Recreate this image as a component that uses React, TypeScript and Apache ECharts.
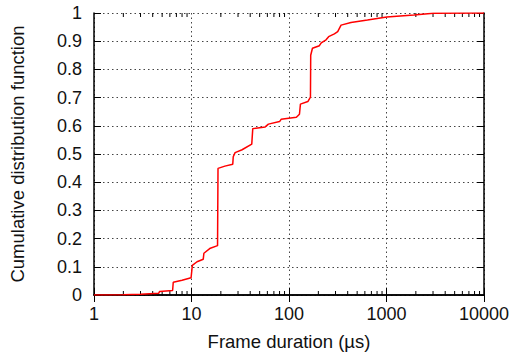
import React, { useEffect, useRef } from "react";
import * as echarts from "echarts";

const durations = [1, 2, 3, 4.6, 4.7, 6.4, 6.5, 8, 9.9, 10.2, 11.4, 13.2, 13.4, 15.6, 18.5, 18.7, 22, 26.5, 26.8, 28, 33, 41.5, 42.5, 57, 61.5, 80, 83, 119, 128, 131, 156, 166, 167, 174, 205, 214, 240, 255, 292, 316, 342, 432, 638, 1006, 1906, 3020, 10000];
const cdf = [0, 0.001, 0.003, 0.006, 0.012, 0.016, 0.045, 0.052, 0.061, 0.105, 0.118, 0.127, 0.148, 0.166, 0.175, 0.449, 0.457, 0.464, 0.49, 0.505, 0.515, 0.535, 0.59, 0.596, 0.606, 0.615, 0.623, 0.63, 0.641, 0.677, 0.686, 0.702, 0.85, 0.875, 0.884, 0.894, 0.905, 0.916, 0.926, 0.934, 0.957, 0.966, 0.975, 0.986, 0.993, 0.999, 1];
const decades = [1, 10, 100, 1000];
const minorMultipliers = [2, 3, 4, 5, 6, 7, 8, 9];
const xTickLabels = ["1", "10", "100", "1000", "10000"];
const xName = "Frame duration (µs)";
const yName = "Cumulative distribution function";

const FONT = "'Liberation Sans', Arial, Helvetica, sans-serif";

export default function App() {
  const ref = useRef<HTMLDivElement>(null);
  useEffect(() => {
    if (!ref.current) return;
    const chart = echarts.init(ref.current, null, { renderer: "svg" });
    const minorTicks: number[][] = [];
    decades.forEach((d) => minorMultipliers.forEach((m) => minorTicks.push([d * m, 0])));
    const axisLine = { show: true, lineStyle: { color: "#000", width: 1.5 } };
    const grid = { type: [1.5, 3], color: "#444", width: 1 };
    const common = { fontFamily: FONT, fontSize: 18, color: "#111" };
    chart.setOption({
      animation: false,
      backgroundColor: "#fff",
      grid: { left: 91, right: 30, top: 13, bottom: 63 },
      xAxis: [
        {
          type: "log",
          logBase: 10,
          min: 1,
          max: 10000,
          position: "bottom",
          axisLine,
          axisTick: { show: true, inside: true, length: 7, lineStyle: { color: "#000", width: 1 } },
          axisLabel: {
            ...common,
            margin: 10,
            formatter: (v: number) => xTickLabels[Math.round(Math.log10(v))] ?? "",
          },
          splitLine: { show: true, lineStyle: grid },
          name: xName,
          nameLocation: "middle",
          nameGap: 37,
          nameTextStyle: { ...common, fontSize: 18.5 },
        },
        {
          type: "log",
          logBase: 10,
          min: 1,
          max: 10000,
          position: "top",
          axisLine,
          axisTick: { show: true, inside: true, length: 7, lineStyle: { color: "#000", width: 1 } },
          axisLabel: { show: false },
          splitLine: { show: false },
        },
      ],
      yAxis: [
        {
          type: "value",
          min: 0,
          max: 1,
          interval: 0.1,
          position: "left",
          axisLine,
          axisTick: { show: true, inside: true, length: 7, lineStyle: { color: "#000", width: 1 } },
          axisLabel: {
            ...common,
            margin: 12,
            formatter: (v: number) => String(Math.round(v * 10) / 10),
          },
          splitLine: { show: true, lineStyle: grid },
          name: yName,
          nameLocation: "middle",
          nameGap: 67,
          nameRotate: 90,
          nameTextStyle: { ...common, fontSize: 18.5 },
        },
        {
          type: "value",
          min: 0,
          max: 1,
          interval: 0.1,
          position: "right",
          axisLine,
          axisTick: { show: true, inside: true, length: 7, lineStyle: { color: "#000", width: 1 } },
          axisLabel: { show: false },
          splitLine: { show: false },
        },
      ],
      series: [
        {
          type: "custom",
          xAxisIndex: 0,
          yAxisIndex: 0,
          silent: true,
          clip: false,
          data: minorTicks,
          encode: { x: 0, y: 1 },
          renderItem: (params: any, api: any) => {
            const v = api.value(0);
            const b = api.coord([v, 0]);
            const t = api.coord([v, 1]);
            const style = { stroke: "#000", lineWidth: 1 };
            return {
              type: "group",
              children: [
                { type: "line", shape: { x1: b[0], y1: b[1], x2: b[0], y2: b[1] - 4 }, style },
                { type: "line", shape: { x1: t[0], y1: t[1], x2: t[0], y2: t[1] + 4 }, style },
              ],
            };
          },
          z: 1,
        },
        {
          type: "line",
          xAxisIndex: 0,
          yAxisIndex: 0,
          data: durations.map((d, i) => [d, cdf[i]]),
          showSymbol: false,
          symbol: "none",
          lineStyle: { color: "#ff0000", width: 1.5 },
          itemStyle: { color: "#ff0000" },
          z: 3,
        },
      ],
    });
    return () => chart.dispose();
  }, []);
  return (
    <div
      ref={ref}
      style={{ position: "fixed", left: 0, top: 0, width: 514, height: 358, background: "#fff" }}
    />
  );
}
